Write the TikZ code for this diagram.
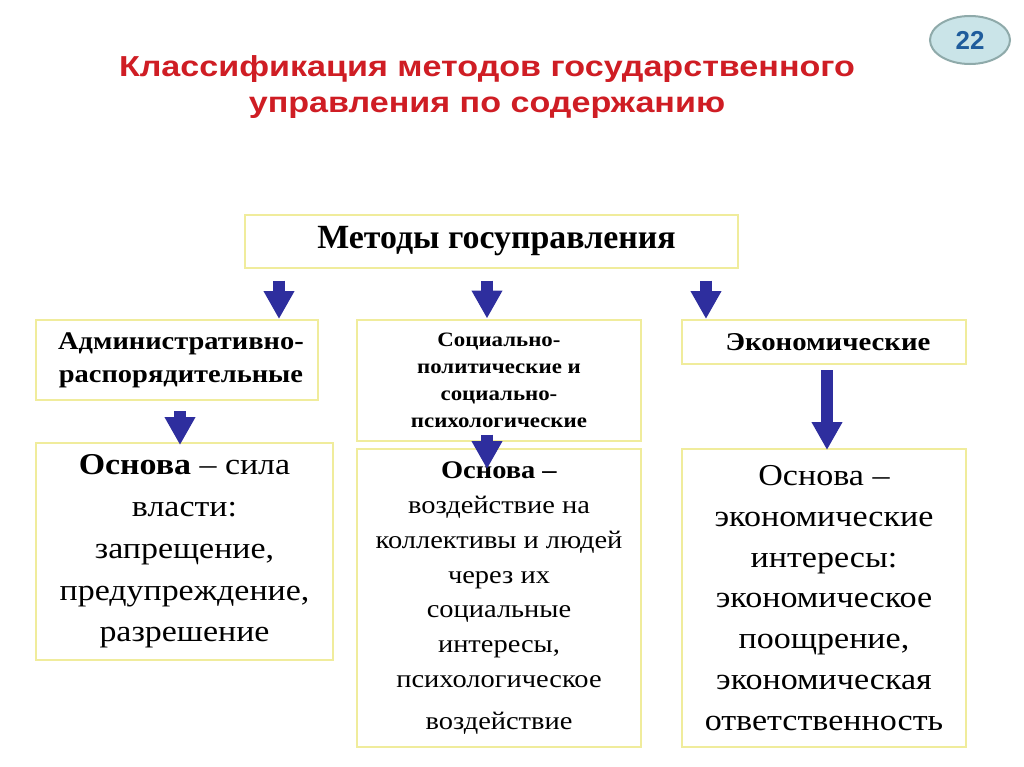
\documentclass[tikz,border=0pt]{standalone}
\usepackage{fontspec}
\setmainfont[FakeStretch=1.12]{Liberation Serif}
\setsansfont{Liberation Sans}
\newfontfamily\plainserif{Liberation Serif}
\newfontfamily\titlefont[FakeStretch=1.18]{Liberation Sans}
\usetikzlibrary{arrows.meta,shapes.geometric}
\definecolor{titlered}{HTML}{CF1D24}
\definecolor{arrowblue}{HTML}{2E2E9E}
\definecolor{boxyellow}{HTML}{F0EC9C}
\definecolor{badgefill}{HTML}{CAE4E8}
\definecolor{badgeline}{HTML}{8FAAAA}
\definecolor{badgetext}{HTML}{1F5C9C}
\begin{document}
\begin{tikzpicture}[x=1bp,y=-1bp,
    box/.style={draw=boxyellow,line width=2bp,fill=white,inner sep=0pt,align=center},
    blockarr/.style={draw=arrowblue,line width=12bp,-{Triangle[length=28bp,width=29bp]}}]
  \useasboundingbox[fill=white] (0,0) rectangle (1024,767);
  % title and slide number
  \node[font=\titlefont\bfseries\fontsize{29}{36}\selectfont,text=titlered,align=center] (title) at (487,87)
    {Классификация методов государственного\\управления по содержанию};
  \node[ellipse,draw=badgeline,line width=2bp,fill=badgefill,minimum width=80bp,minimum height=48bp,
    font=\sffamily\bfseries\fontsize{26}{26}\selectfont,text=badgetext] (num) at (970,40) {22};
  % boxes
  \node[box,minimum width=493bp,minimum height=53bp,font=\plainserif\bfseries\fontsize{34}{36}\selectfont] (top) at (491.5,241) {\hspace*{10bp}Методы госуправления};
  \node[box,minimum width=282bp,minimum height=80bp,font=\bfseries\fontsize{25.5}{33}\selectfont] (adm) at (177,360) {\hspace*{8bp}Административно-\\\hspace*{8bp}распорядительные};
  \node[box,minimum width=284bp,minimum height=121bp,font=\bfseries\fontsize{20.5}{27}\selectfont] (soc) at (499,380) {Социально-\\политические и\\социально-\\психологические};
  \node[box,minimum width=284bp,minimum height=44bp,font=\bfseries\fontsize{25.8}{30}\selectfont] (eco) at (824,342) {\hspace*{8bp}Экономические};
  \node[box,minimum width=297bp,minimum height=217bp,font=\fontsize{30.4}{42}\selectfont] (admb) at (184.5,551.5)
    {\textbf{Основа} -- сила\\власти:\\запрещение,\\предупреждение,\\разрешение};
  \node[box,minimum width=284bp,minimum height=298bp,font=\fontsize{25.5}{35}\selectfont] (socb) at (499,598)
    {\textbf{Основа --}\\воздействие на\\коллективы и людей\\через их\\социальные\\интересы,\\психологическое\\[7bp]воздействие};
  \node[box,minimum width=284bp,minimum height=298bp,font=\fontsize{30.5}{41}\selectfont] (ecob) at (824,598)
    {Основа --\\экономические\\интересы:\\экономическое\\поощрение,\\экономическая\\ответственность};
  % arrows
  \coordinate (c1) at (279,0);
  \coordinate (c2) at (487,0);
  \coordinate (c3) at (706,0);
  \draw[blockarr,shorten <=12bp] (top.south -| c1) -- (c1 |- adm.north);
  \draw[blockarr,shorten <=12bp] (top.south -| c2) -- (c2 |- soc.north);
  \draw[blockarr,shorten <=12bp] (top.south -| c3) -- (c3 |- eco.north);
  \coordinate (d1) at (180,0);
  \draw[blockarr,shorten <=10bp,shorten >=-3bp] (adm.south -| d1) -- (d1 |- admb.north);
  \draw[blockarr,shorten <=-7bp,shorten >=-21bp] (soc.south -| c2) -- (c2 |- socb.north);
  \coordinate (d3) at (827,0);
  \draw[blockarr,shorten <=5bp,shorten >=-2bp] (eco.south -| d3) -- (d3 |- ecob.north);
\end{tikzpicture}
\end{document}
